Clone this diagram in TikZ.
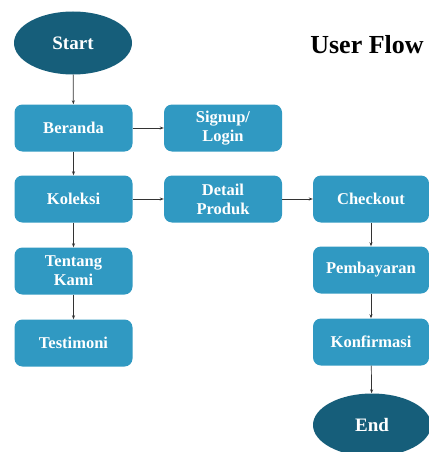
\documentclass[tikz,border=0pt]{standalone}
\usepackage{fontspec}
\setmainfont{Liberation Serif}
\usepackage{xcolor}
\usetikzlibrary{arrows.meta,shapes.geometric}

\definecolor{boxblue}{RGB}{48,153,194}
\definecolor{termblue}{RGB}{22,94,122}

\tikzset{
  stepbox/.style={rectangle,rounded corners=8pt,fill=boxblue,text=white,
    minimum width=118pt,minimum height=47pt,align=center,
    font=\fontsize{16.5}{19}\selectfont\bfseries},
  terminal/.style={ellipse,fill=termblue,text=white,
    minimum width=118pt,minimum height=63pt,
    font=\fontsize{19}{20}\selectfont\bfseries},
  flow/.style={-{Stealth[length=4pt,width=3pt]},line width=0.7pt,black!80}
}

\begin{document}
\begin{tikzpicture}[x=1pt,y=-1pt]
  \useasboundingbox (0,0) rectangle (428,452);
  % terminals
  \node [terminal] (start) at (73,43) {Start};
  \node [terminal] (end) at (372,425) {End};
  \node [font=\fontsize{26}{28}\selectfont\bfseries] (title) at (367,45) {User Flow};
  % left column
  \node [stepbox] (beranda) at (73.5,128) {Beranda};
  \node [stepbox] (koleksi) at (73.5,199) {Koleksi};
  \node [stepbox] (tentang) at (73.5,271) {Tentang\\Kami};
  \node [stepbox] (testimoni) at (73.5,343) {Testimoni};
  % middle column
  \node [stepbox] (signup) at (223,128) {Signup/\\Login};
  \node [stepbox] (detail) at (223,199) {Detail\\Produk};
  % right column
  \node [stepbox,minimum width=116pt] (checkout) at (371,199) {Checkout};
  \node [stepbox,minimum width=116pt] (bayar) at (371,270) {Pembayaran};
  \node [stepbox,minimum width=116pt] (konfirmasi) at (371,342) {Konfirmasi};
  % connectors
  \draw [flow] (start) -- (beranda);
  \draw [flow] (beranda) -- (koleksi);
  \draw [flow] (koleksi) -- (tentang);
  \draw [flow] (tentang) -- (testimoni);
  \draw [flow] (beranda) -- (signup);
  \draw [flow] (koleksi) -- (detail);
  \draw [flow] (detail) -- (checkout);
  \draw [flow] (checkout) -- (bayar);
  \draw [flow] (bayar) -- (konfirmasi);
  \draw [flow] (konfirmasi) -- (end);
\end{tikzpicture}
\end{document}
